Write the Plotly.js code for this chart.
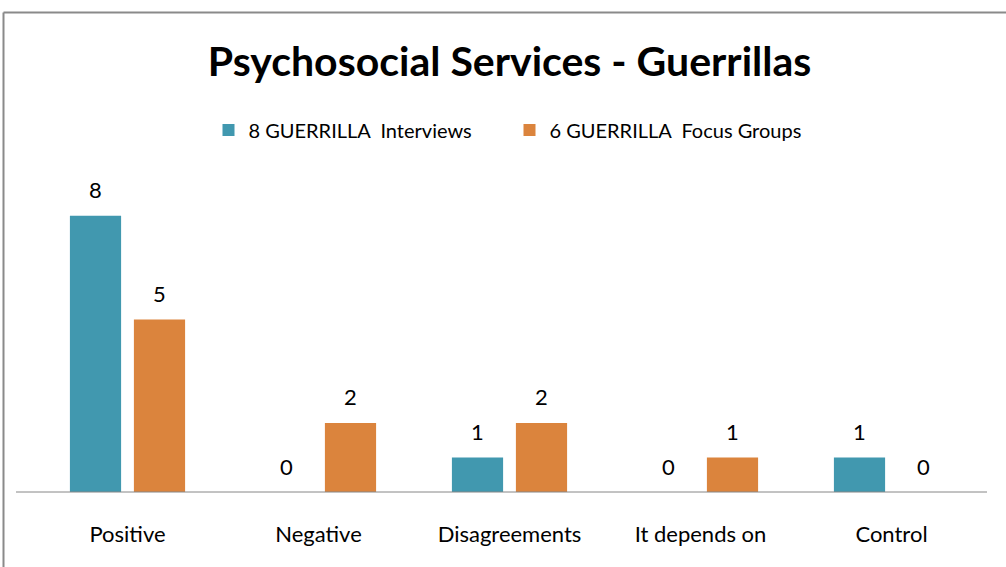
<!DOCTYPE html>
<html><head><meta charset="utf-8">
<script src="https://cdn.plot.ly/plotly-3.0.1.min.js"></script>
<style>html,body{margin:0;padding:0;background:#fff;}#chart{width:1006px;height:567px;}</style>
</head><body><div id="chart"></div>
<script>
const categories = ['Positive', 'Negative', 'Disagreements', 'It depends on', 'Control'];
const seriesNames = ['8 GUERRILLA  Interviews', '6 GUERRILLA  Focus Groups'];
const interviews = [8, 0, 1, 0, 1];
const focusGroups = [5, 2, 2, 1, 0];
const colors = ['#4198AF', '#DB843D'];
const FONT = 'Lato, "Liberation Sans", sans-serif';

const traces = [interviews, focusGroups].map((vals, i) => ({
  type: 'bar', x: categories, y: vals, name: seriesNames[i],
  marker: {color: colors[i]}, hoverinfo: 'skip'
}));

const annotations = [];
[interviews, focusGroups].forEach((vals, i) => {
  vals.forEach((v, j) => {
    annotations.push({x: categories[j], y: v, xref: 'x', yref: 'y', text: String(v),
      showarrow: false, xshift: i === 0 ? -32 : 32, yshift: 26, yanchor: 'middle',
      font: {family: FONT, size: 22, color: '#000'}});
  });
});

const layout = {
  width: 1006, height: 567,
  margin: {l: 32, r: 19, t: 171, b: 75},
  paper_bgcolor: '#fff', plot_bgcolor: '#fff',
  title: {text: '<b>Psychosocial Services - Guerrillas</b>', x: 0.5, xref: 'paper', xanchor: 'center',
    y: 1 - 62 / 567, yref: 'container', yanchor: 'middle',
    font: {family: FONT, size: 41, color: '#000'}},
  barmode: 'group', bargap: 0.33, bargroupgap: 0.2,
  showlegend: true,
  legend: {orientation: 'h', x: 0.5, xanchor: 'center', y: (492 - 130) / 321, yanchor: 'middle',
    font: {family: FONT, size: 20, color: '#000'}, entrywidth: 256, entrywidthmode: 'pixels'},
  xaxis: {showgrid: false, zeroline: false, showline: false, ticks: 'outside', ticklen: 23,
    tickcolor: 'rgba(0,0,0,0)', tickfont: {family: FONT, size: 22, color: '#000'}, fixedrange: true},
  yaxis: {range: [0, 9.3], visible: false, fixedrange: true},
  annotations: annotations,
  shapes: [
    {type: 'line', xref: 'paper', yref: 'paper', x0: -16 / 955, x1: 1, y0: 0, y1: 0, line: {color: '#868686', width: 1}},
    {type: 'line', xref: 'paper', yref: 'paper', x0: -28.5 / 955, x1: -28.5 / 955, y0: -0.5, y1: (492 - 12.5) / 321, line: {color: '#8a8a8a', width: 2}},
    {type: 'line', xref: 'paper', yref: 'paper', x0: -28.5 / 955, x1: 1.2, y0: (492 - 12.5) / 321, y1: (492 - 12.5) / 321, line: {color: '#8a8a8a', width: 2}}
  ]
};
Plotly.newPlot('chart', traces, layout, {displayModeBar: false, staticPlot: true});
</script></body></html>
